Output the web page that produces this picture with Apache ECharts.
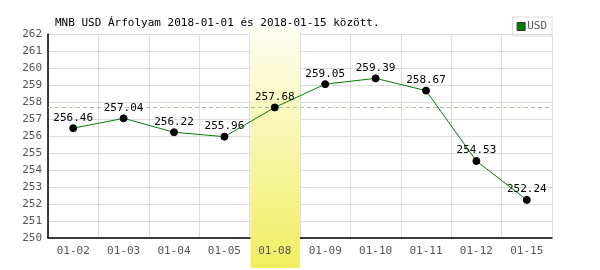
<!DOCTYPE html>
<html><head><meta charset="utf-8">
<script src="https://cdn.jsdelivr.net/npm/echarts@6/dist/echarts.min.js"></script>
<style>html,body{margin:0;padding:0;background:#fff}#c{width:600px;height:270px}</style>
</head><body><div id="c"></div>
<script>
const categories = ['01-02','01-03','01-04','01-05','01-08','01-09','01-10','01-11','01-12','01-15'];
const usdValues = [256.46,257.04,256.22,255.96,257.68,259.05,259.39,258.67,254.53,252.24];
const referenceLine = 257.68;
const highlightCategory = '01-08';
const yMin = 250, yMax = 262, yStep = 1;
const titleText = 'MNB USD Árfolyam 2018-01-01 és 2018-01-15 között.';
const seriesName = 'USD';

const FONT = '"DejaVu Sans Mono", monospace';
const chart = echarts.init(document.getElementById('c'));
chart.setOption({
  animation: false,
  backgroundColor: '#fff',
  title: { text: titleText, left: 50, top: 13,
    textStyle: { fontFamily: FONT, fontSize: 11, fontWeight: 'normal', color: '#000' } },
  legend: { data: [{ name: seriesName, itemStyle: { color: '#008000', borderColor: '#333', borderWidth: 1 } }],
    right: 48, top: 17, orient: 'horizontal',
    borderColor: '#ddd', borderWidth: 1, padding: [4, 5, 4, 4], itemWidth: 8, itemHeight: 8, itemGap: 2,
    icon: 'rect',
    textStyle: { fontFamily: FONT, fontSize: 11, color: '#555', padding: [0,0,0,-3] } },
  grid: { left: 48, right: 48, top: 34, bottom: 32 },
  xAxis: [
    { type: 'category', data: categories, boundaryGap: true, z: 0,
      axisLine: { lineStyle: { color: '#000', width: 1.5 } },
      axisTick: { show: false }, axisLabel: { show: false },
      splitLine: { show: true, lineStyle: { color: '#ddd', width: 1 } } },
    { type: 'category', data: categories, boundaryGap: true, position: 'bottom', z: 3,
      axisLine: { show: false }, axisTick: { show: false }, splitLine: { show: false },
      axisLabel: { fontFamily: FONT, fontSize: 11, color: '#555', margin: 8 } }
  ],
  yAxis: { type: 'value', min: yMin, max: yMax, interval: yStep,
    axisLine: { show: true, lineStyle: { color: '#000', width: 1.5 } },
    axisTick: { show: false },
    axisLabel: { fontFamily: FONT, fontSize: 11, color: '#555', margin: 6 },
    splitLine: { lineStyle: { color: '#ddd', width: 1 } } },
  series: [{
    name: seriesName, type: 'line', data: usdValues, xAxisIndex: 0,
    itemStyle: { color: '#000', borderColor: '#000' },
    lineStyle: { color: '#008000', width: 1 },
    symbol: 'circle', symbolSize: 7, z: 5,
    label: { show: true, position: 'top', distance: 1, fontFamily: FONT, fontSize: 11, color: '#000' },
    markLine: { silent: true, symbol: 'none', label: { show: false },
      lineStyle: { color: '#a8c4a0', type: [4, 3], width: 1 },
      data: [{ yAxis: referenceLine }] }
  }]
});

// highlight band for the selected day, extending below the axis
const idx = categories.indexOf(highlightCategory);
const cL = chart.convertToPixel({ xAxisIndex: 0 }, categories[idx]);
const cR = chart.convertToPixel({ xAxisIndex: 0 }, categories[idx + 1]);
const bw = cR - cL;
const topY = chart.convertToPixel({ yAxisIndex: 0 }, yMax) - 6;
const botY = chart.convertToPixel({ yAxisIndex: 0 }, yMin) + 30;
chart.setOption({ graphic: [{ type: 'rect', z: 1, silent: true,
  shape: { x: Math.round(cL - bw / 2) + 0.5, y: topY, width: bw - 1, height: botY - topY },
  style: { fill: new echarts.graphic.LinearGradient(0, 0, 0, 1, [
    { offset: 0, color: '#fefef2' }, { offset: 1, color: '#f0ee60' }]) } }] });
</script></body></html>
